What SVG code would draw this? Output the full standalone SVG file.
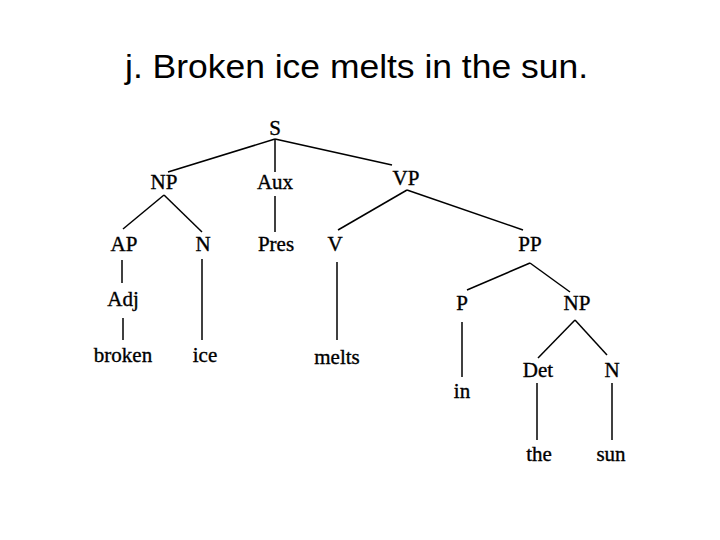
<svg xmlns="http://www.w3.org/2000/svg" width="720" height="540" viewBox="0 0 720 540">
<style>
.title{font-family:"Liberation Sans",Arial,sans-serif;font-size:34px;fill:#000}
.lbl{font-family:"Liberation Serif","Times New Roman",serif;font-size:21px;fill:#000;stroke:#000;stroke-width:0.35;text-anchor:middle}
.edge{stroke:#000;stroke-width:1.5;fill:none}
</style>
<rect width="720" height="540" fill="#fff"/>
<text class="title" x="125" y="78" textLength="463" lengthAdjust="spacingAndGlyphs">j. Broken ice melts in the sun.</text>
<g id="connectors">
<line class="edge" x1="275" y1="139" x2="168" y2="172"/>
<line class="edge" x1="275" y1="139" x2="275" y2="172"/>
<line class="edge" x1="275" y1="139" x2="392" y2="165"/>
<line class="edge" x1="164" y1="195" x2="123" y2="229"/>
<line class="edge" x1="164" y1="195" x2="202" y2="232"/>
<line class="edge" x1="275" y1="196" x2="275" y2="232"/>
<line class="edge" x1="407" y1="190" x2="338" y2="230"/>
<line class="edge" x1="407" y1="190" x2="523" y2="230"/>
<line class="edge" x1="122" y1="260" x2="122" y2="283"/>
<line class="edge" x1="123" y1="318" x2="123" y2="340"/>
<line class="edge" x1="202" y1="259" x2="202" y2="340"/>
<line class="edge" x1="337" y1="262" x2="337" y2="340"/>
<line class="edge" x1="530" y1="263" x2="467" y2="290"/>
<line class="edge" x1="530" y1="263" x2="570" y2="292"/>
<line class="edge" x1="462" y1="322" x2="462" y2="377"/>
<line class="edge" x1="575" y1="320" x2="538" y2="358"/>
<line class="edge" x1="575" y1="320" x2="607" y2="355"/>
<line class="edge" x1="537" y1="383" x2="537" y2="440"/>
<line class="edge" x1="612" y1="383" x2="612" y2="440"/>
</g>
<g id="n-S"><text class="lbl" x="275" y="135">S</text></g>
<g id="n-NP1"><text class="lbl" x="164" y="189">NP</text></g>
<g id="n-Aux"><text class="lbl" x="275" y="189">Aux</text></g>
<g id="n-VP"><text class="lbl" x="406" y="185">VP</text></g>
<g id="n-AP"><text class="lbl" x="124" y="251">AP</text></g>
<g id="n-N1"><text class="lbl" x="203" y="251">N</text></g>
<g id="n-Pres"><text class="lbl" x="276" y="251">Pres</text></g>
<g id="n-V"><text class="lbl" x="335" y="251">V</text></g>
<g id="n-PP"><text class="lbl" x="530" y="251">PP</text></g>
<g id="n-Adj"><text class="lbl" x="123" y="306">Adj</text></g>
<g id="n-P"><text class="lbl" x="462" y="310">P</text></g>
<g id="n-NP2"><text class="lbl" x="577" y="310">NP</text></g>
<g id="n-broken"><text class="lbl" x="123" y="362">broken</text></g>
<g id="n-ice"><text class="lbl" x="205" y="362">ice</text></g>
<g id="n-melts"><text class="lbl" x="337" y="364">melts</text></g>
<g id="n-Det"><text class="lbl" x="538" y="377">Det</text></g>
<g id="n-N2"><text class="lbl" x="612" y="377">N</text></g>
<g id="n-in"><text class="lbl" x="462" y="398">in</text></g>
<g id="n-the"><text class="lbl" x="539" y="461">the</text></g>
<g id="n-sun"><text class="lbl" x="611" y="461">sun</text></g>
</svg>
